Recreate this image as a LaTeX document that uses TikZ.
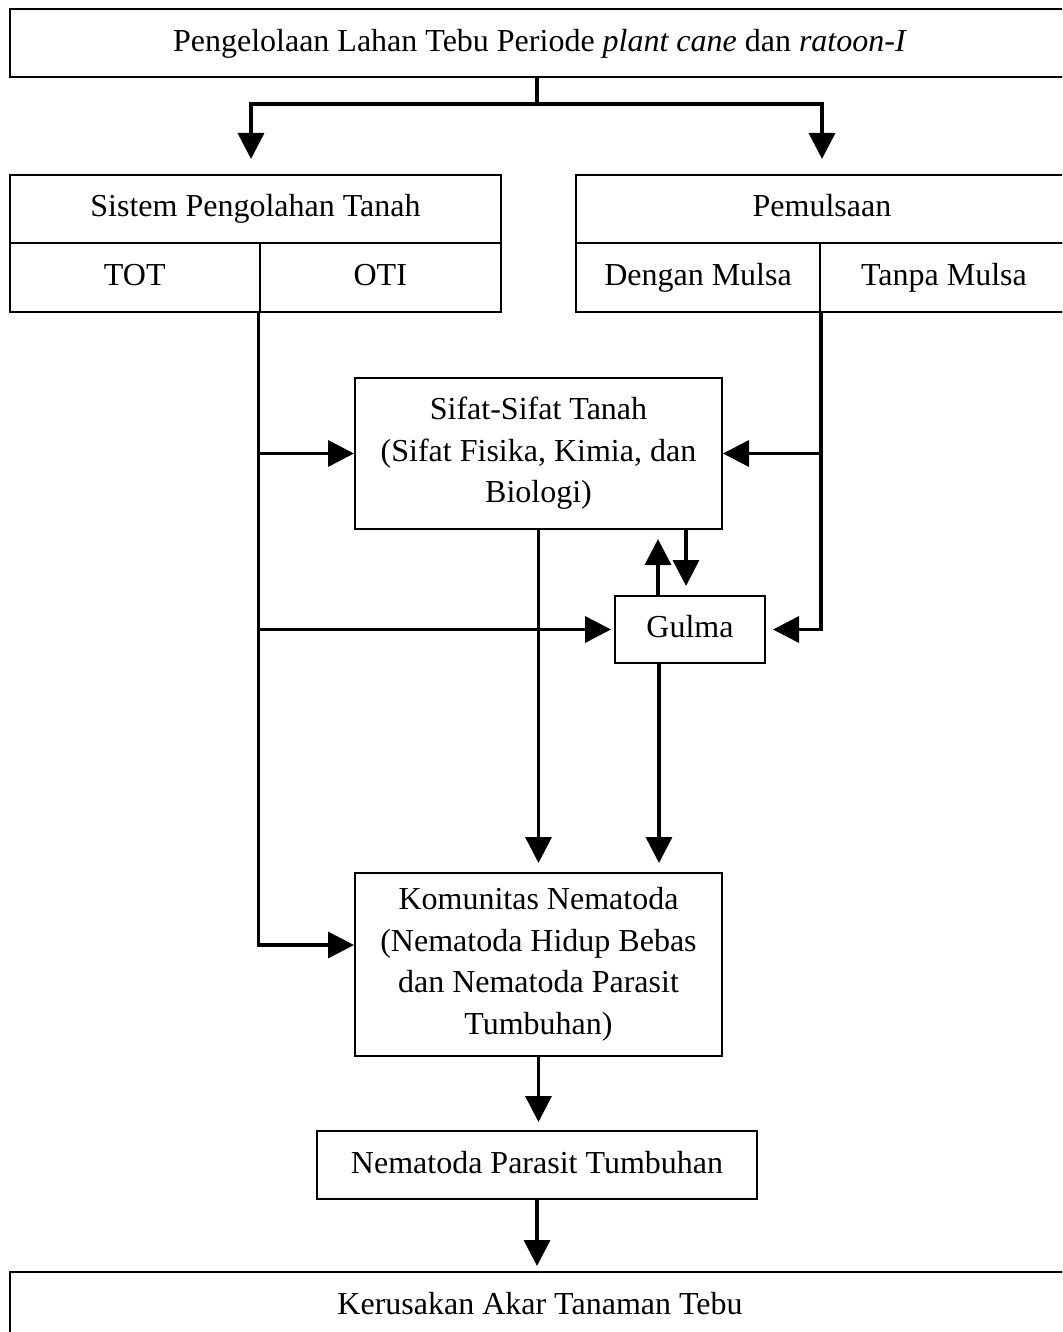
\documentclass[tikz,border=0pt]{standalone}
\usepackage{fontspec}
\setmainfont{Liberation Serif}
\usetikzlibrary{arrows.meta}
\begin{document}
\begin{tikzpicture}[x=1pt,y=-1pt,
  box/.style={draw, line width=2pt, inner sep=0pt, align=center,
    font=\fontsize{32}{41.5}\selectfont},
  oneline/.style={box, text height=22pt, text depth=6pt},
  conn/.style={draw, line width=3.5pt},
  arr/.style={conn, -{Triangle[width=26pt,length=26pt]}}]
\useasboundingbox (0,0) rectangle (1062,1332);
\clip (0,0) rectangle (1062,1332);
% boxes
\node[oneline, minimum width=1060pt, minimum height=68pt] (top) at (540,43.5)
  {Pengelolaan Lahan Tebu Periode \textit{plant cane} dan \textit{ratoon-I}};
\node[oneline, minimum width=491pt, minimum height=68pt] (sistem) at (255.5,209) {Sistem Pengolahan Tanah};
\node[oneline, minimum width=249.5pt, minimum height=69pt] (tot) at (134.75,277.5) {TOT};
\node[oneline, minimum width=241.5pt, minimum height=69pt] (oti) at (380.25,277.5) {OTI};
\node[oneline, minimum width=492pt, minimum height=68pt] (pemul) at (822,209) {Pemulsaan};
\node[oneline, minimum width=244pt, minimum height=69pt] (dengan) at (698,277.5) {Dengan Mulsa};
\node[oneline, minimum width=248pt, minimum height=69pt] (tanpa) at (944,277.5) {Tanpa Mulsa};
\node[box, minimum width=367pt, minimum height=151pt] (sifat) at (538.5,453.5)
  {Sifat-Sifat Tanah\\(Sifat Fisika, Kimia, dan\\Biologi)};
\node[oneline, minimum width=150pt, minimum height=67pt] (gulma) at (690,629.5) {Gulma};
\node[box, minimum width=367pt, minimum height=183pt] (komun) at (538.5,964.5)
  {Komunitas Nematoda\\(Nematoda Hidup Bebas\\dan Nematoda Parasit\\Tumbuhan)};
\node[oneline, minimum width=440pt, minimum height=68pt] (npt) at (537,1165) {Nematoda Parasit Tumbuhan};
\node[oneline, minimum width=1060pt, minimum height=68pt] (kerus) at (540,1306) {Kerusakan Akar Tanaman Tebu};
% top split
\coordinate (jt) at (537,104);
\draw[conn] (jt |- top.south) -- (jt);
\draw[arr, shorten >=15pt] (jt) -| ([xshift=-4.5pt]sistem.north);
\draw[arr, shorten >=15pt] (jt) -| (pemul.north);
% left trunk
\draw[arr] (oti.south west) |- ([yshift=19.5pt]komun.west);
\draw[arr] (oti.south west |- sifat.west) -- (sifat.west);
\draw[arr, shorten >=3pt] (oti.south west |- gulma.west) -- (gulma.west);
% right trunk
\draw[arr, shorten >=7pt] (dengan.south east) |- (gulma.east);
\draw[arr] (dengan.south east |- sifat.east) -- (sifat.east);
% sifat <-> gulma
\draw[arr, shorten >=9pt] ([xshift=-32pt]gulma.north) -- ([xshift=-32pt]gulma.north |- sifat.south);
\draw[arr, shorten >=9pt] ([xshift=-4pt]gulma.north |- sifat.south) -- ([xshift=-4pt]gulma.north);
% down to komunitas
\draw[arr, shorten >=9pt] (sifat.south) -- (komun.north);
\draw[arr, shorten >=9pt] ([xshift=-31pt]gulma.south) -- ([xshift=-31pt]gulma.south |- komun.north);
% bottom chain
\draw[arr, shorten >=8pt] (komun.south) -- (komun.south |- npt.north);
\draw[arr, shorten >=5pt] (npt.south) -- (npt.south |- kerus.north);
\end{tikzpicture}
\end{document}
